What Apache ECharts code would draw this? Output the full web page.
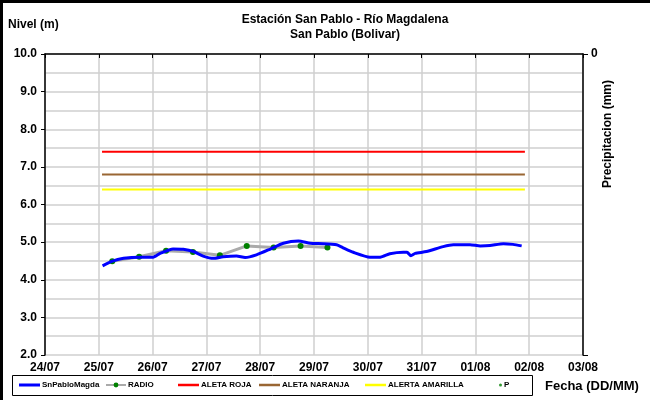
<!DOCTYPE html>
<html>
<head>
<meta charset="utf-8">
<script src="https://cdn.jsdelivr.net/npm/echarts@6/dist/echarts.min.js"></script>
<style>
  html, body { margin: 0; padding: 0; background: #fff; }
  #nivel { width: 650px; height: 400px; }
</style>
</head>
<body>
<div id="nivel"></div>
<script>
// fechas del eje x (dias desde 24/07)
var fechas = ['24/07', '25/07', '26/07', '27/07', '28/07', '29/07', '30/07', '31/07', '01/08', '02/08', '03/08'];

// nivel del sensor SnPabloMagda: [dia, nivel m]
var snPabloDia = [1.07, 1.24, 1.46, 1.77, 2.01, 2.14, 2.38, 2.57, 2.76, 2.94, 3.13, 3.31, 3.56, 3.72, 3.93, 4.18, 4.43, 4.71, 4.93, 5.17, 5.42, 5.54, 5.73, 6.04, 6.23, 6.41, 6.66, 6.73, 6.80, 6.88, 7.09, 7.40, 7.59, 7.90, 8.09, 8.27, 8.52, 8.70, 8.86];
var snPabloNivel = [4.37, 4.49, 4.57, 4.60, 4.60, 4.70, 4.82, 4.81, 4.75, 4.63, 4.57, 4.61, 4.63, 4.59, 4.66, 4.81, 4.97, 5.03, 4.97, 4.96, 4.93, 4.85, 4.73, 4.60, 4.60, 4.69, 4.73, 4.73, 4.64, 4.70, 4.75, 4.88, 4.93, 4.93, 4.90, 4.91, 4.96, 4.94, 4.90];

// lecturas por radio (06:00 y 18:00)
var radioDia = [1.25, 1.75, 2.25, 2.75, 3.25, 3.75, 4.25, 4.75, 5.25];
var radioNivel = [4.49, 4.61, 4.77, 4.74, 4.65, 4.90, 4.86, 4.90, 4.86];

// umbrales de alerta
var alertaInicio = 1.06, alertaFin = 8.92;
var aletaRoja = 7.4;
var aletaNaranja = 6.8;
var alertaAmarilla = 6.4;

// precipitacion (sin datos)
var precipitacion = [];

function pares(xs, ys) {
  return xs.map(function (x, i) { return [x, ys[i]]; });
}
function umbral(v) {
  return [[alertaInicio, v], [alertaFin, v]];
}

var fuente = 'Liberation Sans';
var txtLeyenda = { fontFamily: fuente, fontSize: 8, fontWeight: 'bold', color: '#000', padding: [0, 0, 0, -3] };

// una leyenda por serie para ubicarlas como en la figura
function leyenda(nombre, x, icono, ancho, alto) {
  var item = { name: nombre };
  if (icono) item.icon = icono;
  return {
    left: x, top: 381, padding: 0,
    itemWidth: ancho, itemHeight: alto, itemGap: 0,
    selectedMode: false,
    textStyle: txtLeyenda,
    data: [item]
  };
}

var chart = echarts.init(document.getElementById('nivel'));

var option = {
  backgroundColor: '#fff',
  animation: false,
  textStyle: { fontFamily: fuente },
  title: {
    text: 'Estación San Pablo - Río Magdalena',
    subtext: 'San Pablo (Bolivar)',
    left: 340,
    top: 9,
    textAlign: 'center',
    itemGap: 3,
    textStyle: { fontFamily: fuente, fontSize: 12, fontWeight: 'bold', color: '#000' },
    subtextStyle: { fontFamily: fuente, fontSize: 12, fontWeight: 'bold', color: '#000' }
  },
  legend: [
    leyenda('SnPabloMagda', 19, 'rect', 21, 3),
    leyenda('RADIO', 105, null, 20, 6),
    leyenda('ALETA ROJA', 178, 'rect', 21, 2.5),
    leyenda('ALETA NARANJA', 259, 'rect', 21, 2.5),
    leyenda('ALERTA AMARILLA', 365, 'rect', 21, 2.5),
    leyenda('P', 499, 'circle', 3, 3)
  ],
  grid: { left: 45, right: 67, top: 54, bottom: 45 },
  xAxis: {
    type: 'value',
    min: 0,
    max: 10,
    interval: 1,
    axisLine: { lineStyle: { color: '#000', width: 1.5 } },
    axisTick: { show: true, length: 4, lineStyle: { color: '#000' } },
    axisLabel: {
      color: '#000', fontSize: 12, fontWeight: 'bold', margin: 7,
      formatter: function (v) { return fechas[Math.round(v)] || ''; }
    },
    splitLine: { show: true, lineStyle: { color: '#cfcfcf', width: 1.5 } }
  },
  yAxis: [{
    type: 'value',
    min: 2,
    max: 10,
    interval: 1,
    axisLine: { show: true, lineStyle: { color: '#000', width: 1.5 } },
    axisTick: { show: true, length: 4, lineStyle: { color: '#000' } },
    axisLabel: {
      color: '#000', fontSize: 12, fontWeight: 'bold', margin: 8,
      formatter: function (v) { return v.toFixed(1); }
    },
    splitLine: { show: true, lineStyle: { color: '#cfcfcf', width: 1.5 } },
    minorTick: { show: false, splitNumber: 2 },
    minorSplitLine: { show: true, lineStyle: { color: '#cfcfcf', width: 1.5 } }
  }, {
    type: 'value',
    min: 0,
    max: 8,
    interval: 8,
    inverse: true,
    position: 'right',
    axisLine: { show: true, lineStyle: { color: '#000', width: 1.5 } },
    axisTick: { show: true, length: 5, lineStyle: { color: '#000' } },
    axisLabel: {
      color: '#000', fontSize: 12, fontWeight: 'bold', margin: 8,
      formatter: function (v) { return v === 0 ? '0' : ''; }
    },
    splitLine: { show: false }
  }],
  graphic: [
    { type: 'rect', shape: { x: 1.5, y: 1.5, width: 700, height: 450 }, style: { fill: 'none', stroke: '#000', lineWidth: 3 }, silent: true },
    { type: 'rect', shape: { x: 12.5, y: 375.5, width: 520, height: 20 }, style: { fill: 'none', stroke: '#000', lineWidth: 1 }, silent: true },
    { type: 'text', left: 8, top: 19, style: { text: 'Nivel (m)', font: 'bold 12px "Liberation Sans"', fill: '#000' } },
    { type: 'text', left: 545, top: 380, style: { text: 'Fecha (DD/MM)', font: 'bold 13px "Liberation Sans"', fill: '#000' } },
    { type: 'text', x: 608, y: 134, rotation: Math.PI / 2,
      style: { text: 'Precipitacion (mm)', font: 'bold 12px "Liberation Sans"', fill: '#000', align: 'center', verticalAlign: 'middle' } }
  ],
  series: [{
    name: 'SnPabloMagda',
    type: 'line',
    data: pares(snPabloDia, snPabloNivel),
    showSymbol: false,
    symbol: 'none',
    smooth: 0.2,
    color: '#0000ff',
    lineStyle: { color: '#0000ff', width: 3 },
    z: 3
  }, {
    name: 'RADIO',
    type: 'line',
    data: pares(radioDia, radioNivel),
    symbol: 'circle',
    symbolSize: 6,
    color: '#008000',
    itemStyle: { color: '#008000' },
    lineStyle: { color: '#aaaaaa', width: 3 },
    z: 2
  }, {
    name: 'ALETA ROJA',
    type: 'line',
    data: umbral(aletaRoja),
    symbol: 'none',
    color: '#ff0000',
    lineStyle: { color: '#ff0000', width: 2 }
  }, {
    name: 'ALETA NARANJA',
    type: 'line',
    data: umbral(aletaNaranja),
    symbol: 'none',
    color: '#996633',
    lineStyle: { color: '#996633', width: 2 }
  }, {
    name: 'ALERTA AMARILLA',
    type: 'line',
    data: umbral(alertaAmarilla),
    symbol: 'none',
    color: '#ffff00',
    lineStyle: { color: '#ffff00', width: 2 }
  }, {
    name: 'P',
    type: 'scatter',
    yAxisIndex: 1,
    data: precipitacion,
    symbolSize: 3,
    color: '#008000'
  }]
};

chart.setOption(option);
</script>
</body>
</html>
